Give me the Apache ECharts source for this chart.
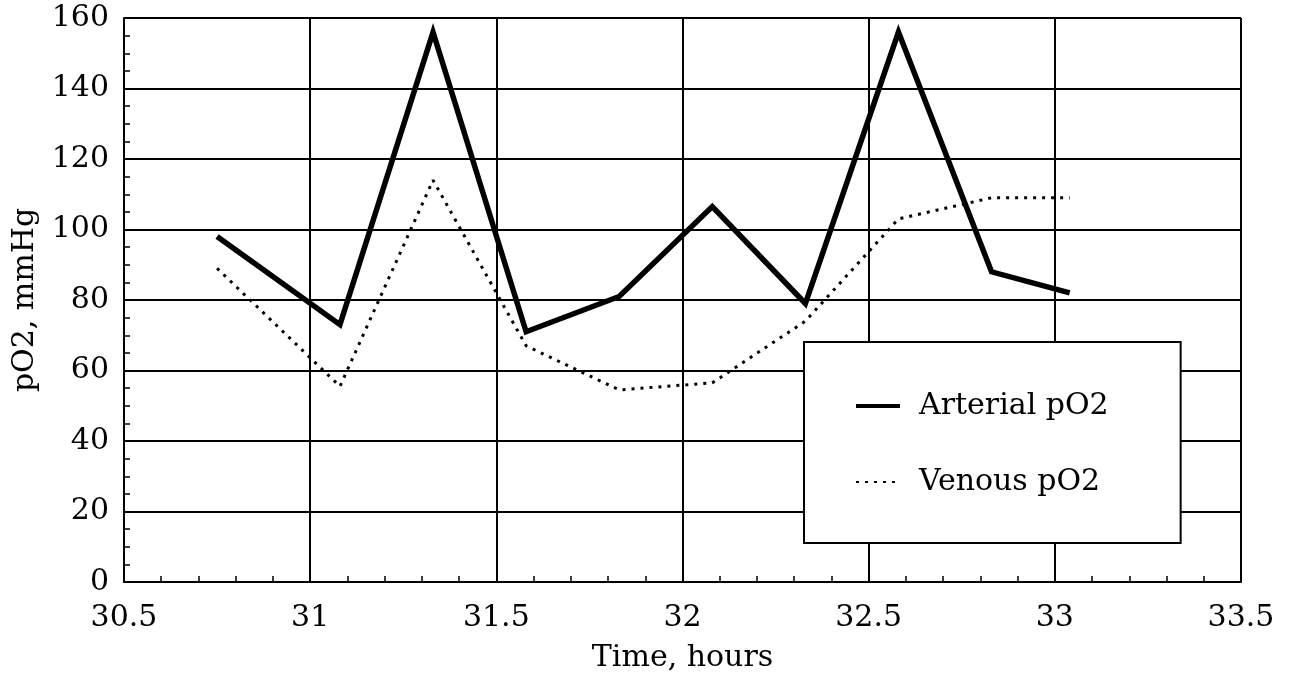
<!DOCTYPE html>
<html>
<head>
<meta charset="utf-8">
<script src="https://cdn.jsdelivr.net/npm/echarts@6/dist/echarts.min.js"></script>
<style>
  html, body { margin: 0; padding: 0; background: #fff; }
  #chart { width: 1294px; height: 678px; }
</style>
</head>
<body>
<div id="chart"></div>
<script>
// sampling times (hours)
const times = [30.75, 31.08, 31.33, 31.58, 31.83, 32.08, 32.33, 32.58, 32.83, 33.04];
// pO2 readings, mmHg
const arterial = [98, 73, 156, 71, 81, 106.5, 79, 156, 88, 82];
const venous = [89, 55.5, 114, 67, 54.5, 56.5, 74, 103, 109, 109];

const FONT = 'DejaVu Serif';
const FS = 30;

const pairs = (ys) => times.map((t, i) => [t, ys[i]]);

const chart = echarts.init(document.getElementById('chart'));

const option = {
    backgroundColor: '#fff',
    animation: false,
    textStyle: { fontFamily: FONT, color: '#000' },
    grid: { left: 124, right: 53, top: 18, bottom: 95 },
    xAxis: {
        type: 'value',
        min: 30.5,
        max: 33.5,
        interval: 0.5,
        name: 'Time, hours',
        nameLocation: 'middle',
        nameGap: 61,
        nameTextStyle: { fontFamily: FONT, fontSize: FS, color: '#000' },
        axisLine: { lineStyle: { color: '#000', width: 2 } },
        axisTick: { show: true, inside: true, length: 6, lineStyle: { color: '#000', width: 1.5 } },
        minorTick: { show: true, splitNumber: 5, length: 6, lineStyle: { color: '#000', width: 1.5 } },
        axisLabel: { fontFamily: FONT, fontSize: FS, color: '#000', margin: 21 },
        splitLine: { show: true, lineStyle: { color: '#000', width: 2 } }
    },
    yAxis: {
        type: 'value',
        min: 0,
        max: 160,
        interval: 20,
        name: 'pO2, mmHg',
        nameLocation: 'middle',
        nameGap: 84,
        nameTextStyle: { fontFamily: FONT, fontSize: FS, color: '#000' },
        axisLine: { lineStyle: { color: '#000', width: 2 } },
        axisTick: { show: true, inside: true, length: 6, lineStyle: { color: '#000', width: 1.5 } },
        minorTick: { show: true, splitNumber: 4, length: 6, lineStyle: { color: '#000', width: 1.5 } },
        axisLabel: { fontFamily: FONT, fontSize: FS, color: '#000', margin: 15 },
        splitLine: { show: true, lineStyle: { color: '#000', width: 2 } }
    },
    legend: {
        orient: 'vertical',
        left: 804,
        top: 342,
        padding: [49, 72, 46, 50],
        itemWidth: 44,
        itemHeight: 14,
        itemGap: 46,
        backgroundColor: '#fff',
        borderColor: '#000',
        borderWidth: 2,
        borderRadius: 0,
        itemStyle: { color: 'rgba(0,0,0,0)', borderWidth: 0, opacity: 0 },
        textStyle: { fontFamily: FONT, fontSize: FS, color: '#000', padding: [0, 0, 0, 14] },
        data: [
            { name: 'Arterial pO2', lineStyle: { width: 4 } },
            { name: 'Venous pO2', lineStyle: { width: 2 } }
        ]
    },
    series: [
        {
            name: 'Arterial pO2',
            type: 'line',
            data: pairs(arterial),
            symbol: 'none',
            lineStyle: { color: '#000', width: 5.5, join: 'miter' },
            itemStyle: { color: '#000' },
            z: 3
        },
        {
            name: 'Venous pO2',
            type: 'line',
            data: pairs(venous),
            symbol: 'none',
            lineStyle: { color: '#000', width: 3, type: [3, 6] },
            itemStyle: { color: '#000' },
            z: 2
        }
    ]
};

chart.setOption(option);
</script>
</body>
</html>
